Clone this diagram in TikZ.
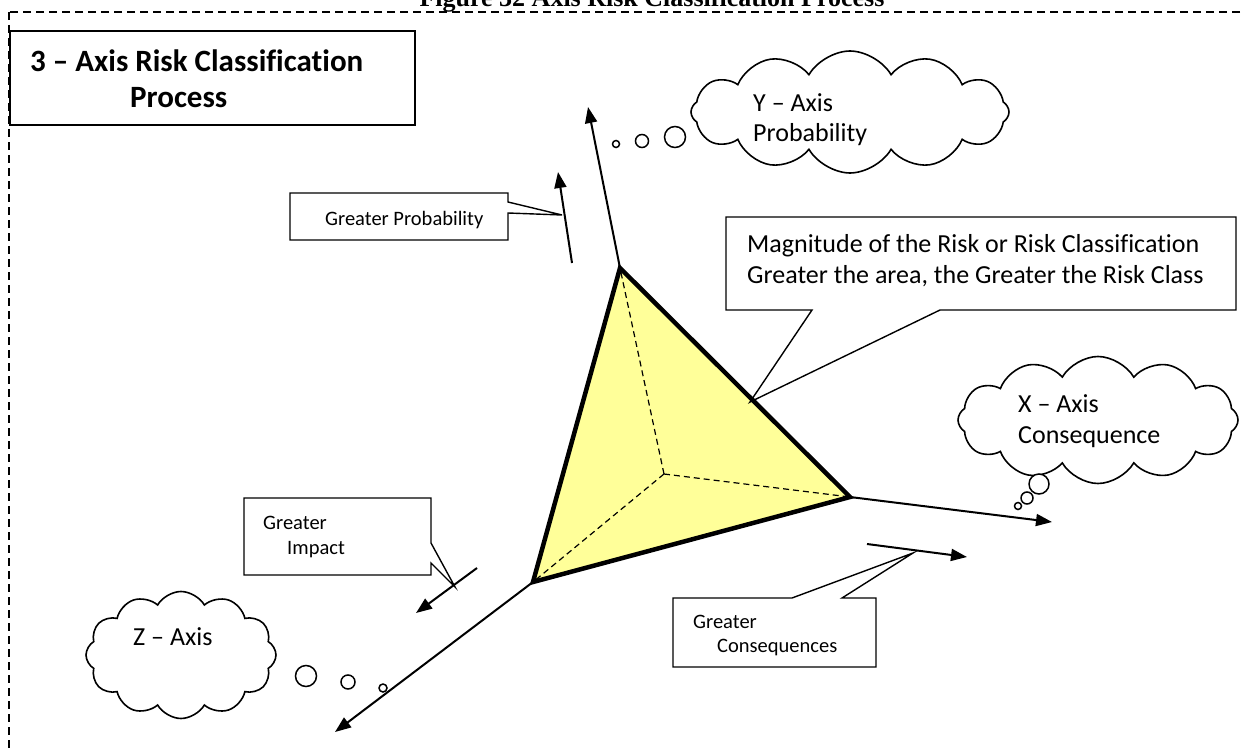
\documentclass[tikz,border=0pt]{standalone}
\usepackage{fontspec}
\setmainfont{Carlito}[Ligatures=NoCommon]
\newfontfamily\figfont{Liberation Serif}
\usetikzlibrary{arrows.meta,shapes.symbols}
\definecolor{areafill}{HTML}{FFFF99}

\begin{document}
\begin{tikzpicture}[x=1pt,y=-1pt,
  txt/.style={inner sep=0pt, anchor=base west, font=\fontsize{26}{31}\selectfont},
  smalltxt/.style={inner sep=0pt, anchor=base west, font=\fontsize{20.5}{25}\selectfont},
  headtxt/.style={inner sep=0pt, anchor=base west, font=\bfseries\fontsize{31}{36}\selectfont},
  callout/.style={draw, line width=1.4pt, line join=miter},
  axisline/.style={draw, line width=2pt, -{Triangle[length=16pt,width=12pt]}},
  hintarrow/.style={draw, line width=2pt, -{Triangle[length=16pt,width=12pt]}},
  bubble/.style={draw, line width=1.5pt, fill=white},
  thought/.style={cloud, cloud puffs=12, cloud puff arc=120, cloud ignores aspect,
    draw, line width=1.6pt, fill=white, inner sep=0pt},
  hidden/.style={draw, line width=1.2pt, dash pattern=on 6pt off 4pt},
]
\useasboundingbox (0,0) rectangle (1241,749);
\clip (0,0) rectangle (1241,749);

% caption and dashed frame
\node[inner sep=0pt, anchor=base, font=\figfont\bfseries\fontsize{26}{30}\selectfont]
  (figtitle) at (652,7) {Figure 32 Axis Risk Classification Process};
\draw[line width=1.3pt, dash pattern=on 8pt off 5pt] (9,12) rectangle (1270,790);

% heading box
\draw[callout] (10,31) rectangle (415,125);
\node[headtxt] (head1) at (30,72) {3 – Axis Risk Classification};
\node[headtxt] (head2) at (130,108) {Process};

% triangle vertices and centre
\coordinate (ty) at (620,268);
\coordinate (tx) at (850,497);
\coordinate (tz) at (533,582);
\coordinate (tc) at (664,474);
\coordinate (ytip) at (588,107);
\coordinate (xtip) at (1052,522);
\coordinate (ztip) at (335,732);

% axes
\draw[axisline] (ty) -- (ytip);
\draw[axisline] (tx) -- (xtip);
\draw[axisline] (tz) -- (ztip);

% risk area
\fill[areafill] (ty) -- (tx) -- (tz) -- cycle;
\draw[hidden] (tc) -- (ty);
\draw[hidden] (tc) -- (tx);
\draw[hidden] (tc) -- (tz);
\draw[line width=4.5pt, line join=miter] (ty) -- (tx) -- (tz) -- cycle;

% magnitude callout
\draw[callout] (726,217) -- (1236,217) -- (1236,310) -- (940,310) -- (750,402)
  -- (812,310) -- (726,310) -- cycle;
\node[txt] (mag1) at (747,252) {Magnitude of the Risk or Risk Classification};
\node[txt] (mag2) at (747,283) {Greater the area, the Greater the Risk Class};

% greater probability
\coordinate (pbase) at (572,263);
\coordinate (phead) at (558,172);
\draw[callout] (290,193) -- (508,193) -- (508,202) -- (562,215) -- (508,213)
  -- (508,240) -- (290,240) -- cycle;
\node[smalltxt] (gprob) at (325,225) {Greater Probability};
\draw[hintarrow] (pbase) -- (phead);

% greater impact
\coordinate (ibase) at (477,568);
\coordinate (ihead) at (416,613);
\draw[callout] (244,498) -- (431,498) -- (431,543) -- (455,587) -- (431,563)
  -- (431,575) -- (244,575) -- cycle;
\node[smalltxt] (gimp1) at (263,529) {Greater};
\node[smalltxt] (gimp2) at (287,554) {Impact};
\draw[hintarrow] (ibase) -- (ihead);

% greater consequences
\coordinate (cbase) at (867,544);
\coordinate (chead) at (967,557);
\draw[callout] (673,598) -- (792,598) -- (913,553) -- (842,598) -- (876,598)
  -- (876,667) -- (673,667) -- cycle;
\node[smalltxt] (gcon1) at (693,628) {Greater};
\node[smalltxt] (gcon2) at (717,652) {Consequences};
\draw[hintarrow] (cbase) -- (chead);

% thought clouds
\node[thought, minimum width=318pt, minimum height=122pt] (ycloud) at (850,112) {};
\node[txt] (ylab1) at (753,112) {Y – Axis};
\node[txt] (ylab2) at (753,141) {Probability};
\draw[bubble] (616,144) circle[radius=3.5pt];
\draw[bubble] (642,141) circle[radius=6.5pt];
\draw[bubble] (675,137) circle[radius=10.5pt];

\node[thought, minimum width=280pt, minimum height=127pt] (xcloud) at (1098,420) {};
\node[txt] (xlab1) at (1018,412) {X – Axis};
\node[txt] (xlab2) at (1018,443) {Consequence};
\draw[bubble] (1039,484) circle[radius=10pt];
\draw[bubble] (1027,498) circle[radius=6pt];
\draw[bubble] (1018,506) circle[radius=3.5pt];

\node[thought, minimum width=190pt, minimum height=127pt] (zcloud) at (181,655) {};
\node[txt] (zlab) at (133,645) {Z – Axis};
\draw[bubble] (306,676) circle[radius=10.5pt];
\draw[bubble] (348,682) circle[radius=7pt];
\draw[bubble] (383,688) circle[radius=4pt];
\end{tikzpicture}
\end{document}
